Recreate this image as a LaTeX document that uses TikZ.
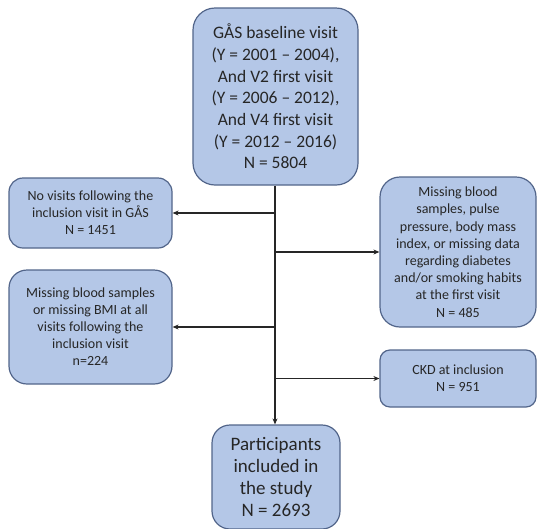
\documentclass[tikz,border=0pt]{standalone}
\usepackage{fontspec}
\setmainfont{Carlito}
\usetikzlibrary{arrows.meta}
\definecolor{boxfill}{HTML}{B4C7E7}
\definecolor{boxline}{HTML}{52658A}
\tikzset{
  flowbox/.style={draw=boxline, line width=1.2pt, fill=boxfill, rounded corners=14pt,
    align=center, inner sep=0pt, text=black!85},
  link/.style={line width=1.4pt, draw=black!85, -{Stealth[length=6pt,width=5pt]}},
}
\begin{document}
\begin{tikzpicture}[x=1pt,y=-1pt]
\useasboundingbox (0,0) rectangle (538,528);
% top box
\node[flowbox, minimum width=165pt, minimum height=177pt, rounded corners=22pt,
  font=\fontsize{17.5}{21.7}\selectfont] (start) at (275.5,96.5)
  {GÅS baseline visit\\(Y = 2001 – 2004),\\And V2 first visit\\(Y = 2006 – 2012),\\And V4 first visit\\(Y = 2012 – 2016)\\N = 5804};
% exclusion boxes, left
\node[flowbox, minimum width=163pt, minimum height=70pt,
  font=\fontsize{14}{17}\selectfont] (ex1) at (90.5,213)
  {No visits following the\\inclusion visit in GÅS\\N = 1451};
\node[flowbox, minimum width=163pt, minimum height=114pt, rounded corners=18pt,
  font=\fontsize{14}{17}\selectfont] (ex3) at (90.5,327)
  {Missing blood samples\\or missing BMI at all\\visits following the\\inclusion visit\\n=224};
% exclusion boxes, right
\node[flowbox, minimum width=156pt, minimum height=150pt, rounded corners=20pt,
  font=\fontsize{14}{17.2}\selectfont] (ex2) at (458,252)
  {Missing blood\\samples, pulse\\pressure, body mass\\index, or missing data\\regarding diabetes\\and/or smoking habits\\at the first visit\\N = 485};
\node[flowbox, minimum width=156pt, minimum height=57pt, rounded corners=10pt,
  font=\fontsize{14}{17}\selectfont] (ex4) at (458,378.5)
  {CKD at inclusion\\N = 951};
% final box
\node[flowbox, minimum width=128pt, minimum height=104pt, rounded corners=18pt,
  font=\fontsize{19}{21.7}\selectfont] (final) at (276,477)
  {Participants\\included in\\the study\\N = 2693};
% trunk and branches
\coordinate (b1) at (275,213);
\coordinate (b2) at (275,252);
\coordinate (b3) at (275,327);
\coordinate (b4) at (275,378.5);
\draw[link] (start.south -| b1) -- (final.north -| b1);
\draw[link] (b1) -- (ex1.east |- b1);
\draw[link] (b2) -- (ex2.west |- b2);
\draw[link] (b3) -- (ex3.east |- b3);
\draw[link] (b4) -- (ex4.west |- b4);
\end{tikzpicture}
\end{document}
